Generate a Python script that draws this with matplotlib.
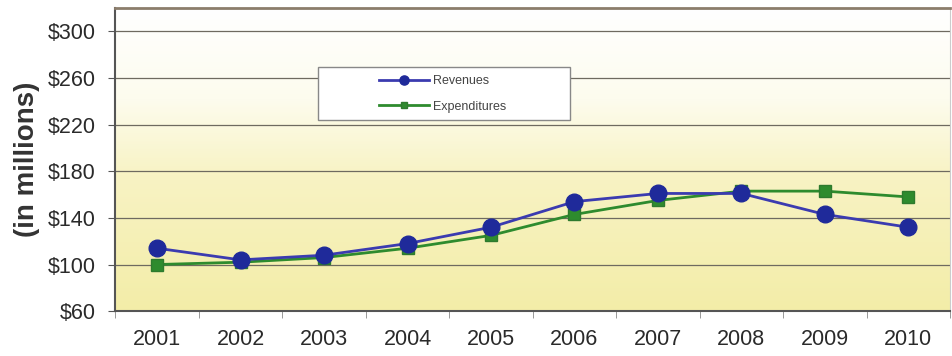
import numpy as np
import matplotlib.pyplot as plt
from matplotlib.colors import LinearSegmentedColormap
from matplotlib.patches import Rectangle

plt.rcParams["font.family"] = ["Liberation Sans", "DejaVu Sans"]

# data
years = ["2001", "2002", "2003", "2004", "2005", "2006", "2007", "2008", "2009", "2010"]
revenues = [114, 104, 108, 118, 132, 154, 161, 161, 143, 132]
expenditures = [100, 102, 106, 114, 125, 143, 155, 163, 163, 158]
y_ticks = [60, 100, 140, 180, 220, 260, 300]

fig = plt.figure(figsize=(9.53, 3.56), dpi=100)
ax = fig.add_axes([0.121, 0.126, 0.876, 0.851])

x = np.arange(1, len(years) + 1)
ax.set_xlim(0.5, len(years) + 0.5)
ax.set_ylim(60, 320)

# background: white at top fading into pale yellow
cmap = LinearSegmentedColormap.from_list(
    "bg", [(0.0, "#f3eda8"), (0.45, "#f8f3c4"), (0.7, "#fdfcee"), (1.0, "#ffffff")])
grad = np.linspace(0, 1, 256).reshape(-1, 1)
ax.imshow(grad, cmap=cmap, aspect="auto", origin="lower",
          extent=(0.5, len(years) + 0.5, 60, 320), zorder=0)

for t in y_ticks[1:]:
    ax.axhline(t, color="#6e6a60", lw=0.9, zorder=1)

ax.plot(x, expenditures, color="#2e8b2e", lw=2, marker="s", ms=9,
        markerfacecolor="#2e8b2e", markeredgecolor="#2e7a2e", label="Expenditures", zorder=3)
ax.plot(x, revenues, color="#3b3bb0", lw=2, marker="o", ms=12,
        markerfacecolor="#1f2a9a", markeredgecolor="#1f2a9a", label="Revenues", zorder=4)

ax.set_yticks(y_ticks)
ax.set_yticklabels([f"${v}" for v in y_ticks], fontsize=15.5, color="#2a2a2a")
ax.set_xticks(x)
ax.set_xticklabels(years, fontsize=15.5, color="#2a2a2a")
ax.set_xticks(np.arange(0.5, len(years) + 1), minor=True)
ax.tick_params(axis="x", which="major", length=0, pad=13)
ax.tick_params(axis="x", which="minor", length=5, color="#888888")
ax.tick_params(axis="y", length=5, color="#555555", pad=9)

ax.set_ylabel("(in millions)", fontsize=20, fontweight="bold", color="#333333", labelpad=6)

for side in ["left", "bottom"]:
    ax.spines[side].set_color("#555555")
    ax.spines[side].set_linewidth(1.5)
ax.spines["top"].set_color("#8b7d6b")
ax.spines["top"].set_linewidth(2)
ax.spines["right"].set_color("#cccccc")

# legend box drawn wider than its contents, as in the original
ax.add_patch(Rectangle((0.243, 0.630), 0.302, 0.175, transform=ax.transAxes,
                       facecolor="white", edgecolor="#888888", lw=1, zorder=5))
handles, labels = ax.get_legend_handles_labels()
leg = ax.legend(handles[::-1], labels[::-1], loc="center left",
                bbox_to_anchor=(0.316, 0.717), fontsize=9, frameon=False,
                handlelength=4.0, handletextpad=0.3, labelspacing=1.1,
                borderpad=0, borderaxespad=0, markerscale=0.55, labelcolor="#444444")
leg.set_zorder(6)

fig.savefig("out.png", dpi=100)
